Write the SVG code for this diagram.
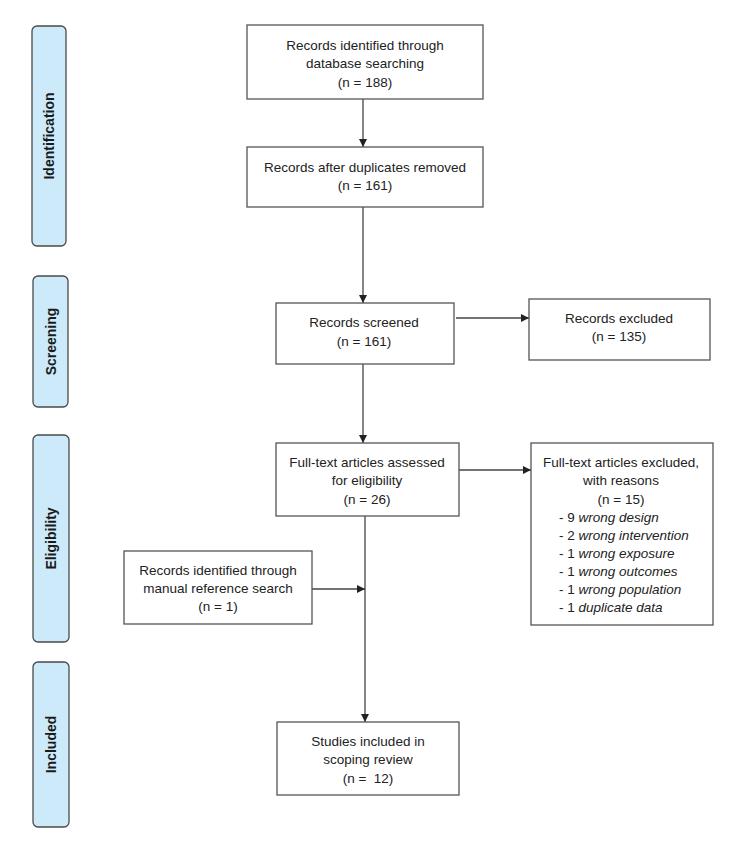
<svg xmlns="http://www.w3.org/2000/svg" width="750" height="844" viewBox="0 0 750 844">
<defs>
<style>
.bg{fill:#ffffff}
.phase rect{fill:#cdeafa;stroke:#4a4a4a;stroke-width:1.3}
.phase text{font-family:"Liberation Sans",Arial,sans-serif;font-size:14px;font-weight:bold;fill:#1a1a1a;text-anchor:middle;dominant-baseline:central}
.box rect{fill:#ffffff;stroke:#555555;stroke-width:1.3}
.box text{font-family:"Liberation Sans",Arial,sans-serif;font-size:13.5px;fill:#222222;text-anchor:middle;dominant-baseline:central}
.box text.l{text-anchor:start}
.conn line{stroke:#444444;stroke-width:1.3;fill:none}
</style>
<marker id="arr" viewBox="0 0 10 10" refX="10" refY="5" markerWidth="8" markerHeight="8" markerUnits="userSpaceOnUse" orient="auto">
<path d="M0,0 L10,5 L0,10 z" fill="#222222"/>
</marker>
</defs>
<rect class="bg" x="0" y="0" width="750" height="844"/>

<g id="phase-identification" class="phase">
<rect x="32" y="26" width="34" height="220" rx="5"/>
<text transform="translate(49,136) rotate(-90)">Identification</text>
</g>
<g id="phase-screening" class="phase">
<rect x="33" y="276" width="35" height="131" rx="5"/>
<text transform="translate(50.5,341.5) rotate(-90)">Screening</text>
</g>
<g id="phase-eligibility" class="phase">
<rect x="33" y="435" width="36" height="207" rx="5"/>
<text transform="translate(51,538.5) rotate(-90)">Eligibility</text>
</g>
<g id="phase-included" class="phase">
<rect x="33" y="662" width="36" height="165" rx="5"/>
<text transform="translate(51,744.5) rotate(-90)">Included</text>
</g>

<g id="connectors" class="conn">
<line x1="363" y1="99" x2="363" y2="147" marker-end="url(#arr)"/>
<line x1="363" y1="207" x2="363" y2="303" marker-end="url(#arr)"/>
<line x1="456" y1="318" x2="529" y2="318" marker-end="url(#arr)"/>
<line x1="363" y1="364" x2="363" y2="443" marker-end="url(#arr)"/>
<line x1="459" y1="470" x2="531" y2="470" marker-end="url(#arr)"/>
<line x1="365" y1="516" x2="365" y2="722" marker-end="url(#arr)"/>
<line x1="312" y1="589" x2="365" y2="589" marker-end="url(#arr)"/>
</g>

<g id="node-identified" class="box">
<rect x="247" y="25" width="236" height="74"/>
<text x="365" y="45">Records identified through</text>
<text x="365" y="63">database searching</text>
<text x="365" y="82">(n = 188)</text>
</g>
<g id="node-deduplicated" class="box">
<rect x="247" y="147" width="236" height="60"/>
<text x="365" y="167">Records after duplicates removed</text>
<text x="365" y="185">(n = 161)</text>
</g>
<g id="node-screened" class="box">
<rect x="276" y="303" width="178" height="61"/>
<text x="364" y="322">Records screened</text>
<text x="364" y="341">(n = 161)</text>
</g>
<g id="node-excluded" class="box">
<rect x="529" y="299" width="181" height="61"/>
<text x="619" y="318">Records excluded</text>
<text x="619" y="336">(n = 135)</text>
</g>
<g id="node-fulltext" class="box">
<rect x="276" y="443" width="183" height="73"/>
<text x="367" y="462">Full-text articles assessed</text>
<text x="367" y="480">for eligibility</text>
<text x="367" y="499">(n = 26)</text>
</g>
<g id="node-fulltext-excluded" class="box">
<rect x="531" y="443" width="182" height="182"/>
<text x="621" y="462">Full-text articles excluded,</text>
<text x="621" y="480">with reasons</text>
<text x="621" y="499">(n = 15)</text>
<text class="l" x="559" y="517">- 9 <tspan font-style="italic">wrong design</tspan></text>
<text class="l" x="559" y="535">- 2 <tspan font-style="italic">wrong intervention</tspan></text>
<text class="l" x="559" y="553">- 1 <tspan font-style="italic">wrong exposure</tspan></text>
<text class="l" x="559" y="571">- 1 <tspan font-style="italic">wrong outcomes</tspan></text>
<text class="l" x="559" y="589">- 1 <tspan font-style="italic">wrong population</tspan></text>
<text class="l" x="559" y="607">- 1 <tspan font-style="italic">duplicate data</tspan></text>
</g>
<g id="node-manual" class="box">
<rect x="124" y="551" width="188" height="73"/>
<text x="218" y="570">Records identified through</text>
<text x="218" y="588">manual reference search</text>
<text x="218" y="606">(n = 1)</text>
</g>
<g id="node-included" class="box">
<rect x="277" y="722" width="182" height="73"/>
<text x="368" y="741">Studies included in</text>
<text x="368" y="759">scoping review</text>
<text x="368" y="778">(n =&#160; 12)</text>
</g>
</svg>
